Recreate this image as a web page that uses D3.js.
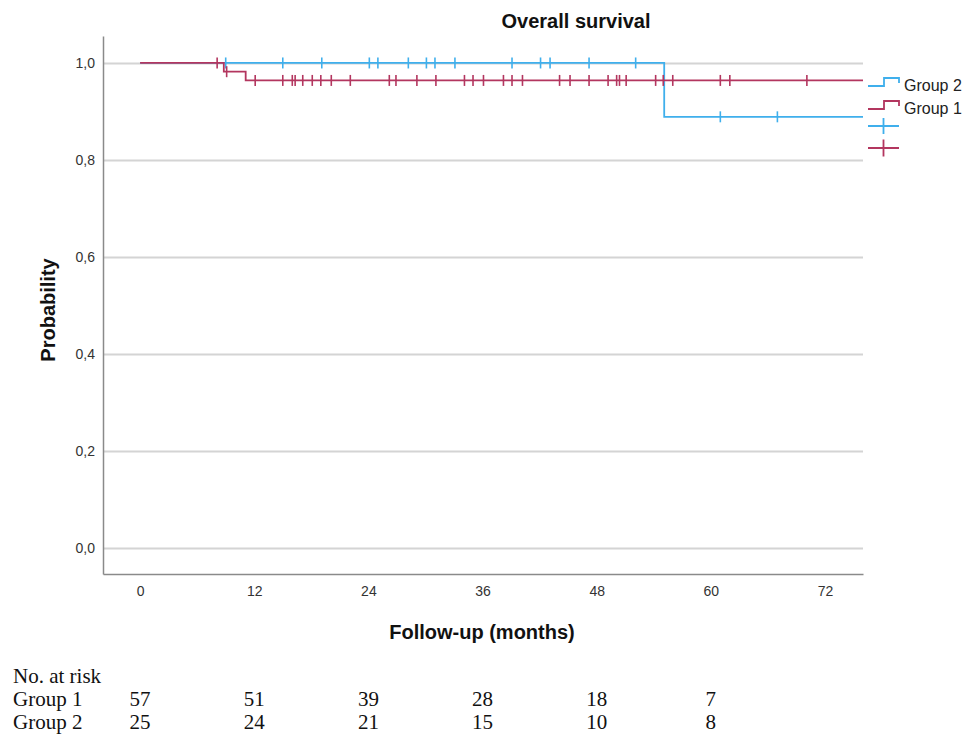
<!DOCTYPE html>
<html lang="en">
<head>
    <meta charset="utf-8">
    <title>Overall survival</title>
    <script src="https://d3js.org/d3.v7.min.js"></script>
    <style type="text/css">
        body { margin: 0; background: #fff; }
        .axis text { font-family: "Liberation Sans", Arial, sans-serif; fill: #333; }
    </style>
</head>
<body>
<script type="text/javascript">
    //Width and height
    var w = 978;
    var h = 735;

    //Plot box
    var plotLeft = 103, plotRight = 863, plotTop = 36, plotBottom = 574;

    //Tick values
    var xTicks = [0, 12, 24, 36, 48, 60, 72];
    var yTicks = [0, 0.2, 0.4, 0.6, 0.8, 1.0];

    //Kaplan-Meier steps: [month, survival after that month]
    var group1Steps = [[0, 1], [8.8, 0.982], [11.1, 0.964], [76, 0.964]];
    var group2Steps = [[0, 1], [55.1, 0.889], [76, 0.889]];

    //Censored cases (months)
    var group1Censored = [8.1, 9.1, 12.1, 15.0, 16.0, 16.3, 17.1, 18.1, 19.0, 20.1, 22.1, 26.2, 26.9,
        29.1, 31.1, 34.1, 35.0, 36.1, 38.2, 39.1, 40.2, 44.1, 45.2, 47.2, 49.2, 50.1, 50.4, 51.1,
        54.2, 55.0, 56.0, 61.0, 62.0, 70.1];
    var group2Censored = [9.0, 15.0, 19.1, 24.1, 25.0, 28.2, 30.1, 31.0, 33.1, 39.1, 42.1, 43.1,
        47.2, 52.1, 61.0, 67.0];

    //Number at risk table
    var riskMonths = [0, 12, 24, 36, 48, 60];
    var riskGroup1 = [57, 51, 39, 28, 18, 7];
    var riskGroup2 = [25, 24, 21, 15, 10, 8];

    var blue = "#3fafec";
    var red = "#b3365f";

    //survival at time t for a step list
    function survAt(steps, t) {
        var s = steps[0][1];
        steps.forEach(function(d) { if (d[0] <= t) s = d[1]; });
        return s;
    }

    var xScale = d3.scaleLinear()
        .domain([-3.9, 76])
        .range([plotLeft, plotRight]);
    var yScale = d3.scaleLinear()
        .domain([-0.0535, 1.0556])
        .range([plotBottom, plotTop]);

    var svg = d3.select("body")
        .append("svg")
        .attr("width", w)
        .attr("height", h);

    //Gridlines
    svg.append("g")
        .attr("transform", "translate(" + plotLeft + ",0)")
        .call(d3.axisLeft(yScale).tickValues(yTicks).tickSize(-(plotRight - plotLeft)).tickFormat(""))
        .call(function(g) { g.select(".domain").remove(); })
        .selectAll("line")
        .attr("stroke", "#d4d4d4")
        .attr("stroke-width", 2);

    //Y axis
    var yAxis = d3.axisLeft(yScale)
        .tickValues(yTicks)
        .tickSize(0)
        .tickPadding(8)
        .tickFormat(function(d) { return d3.format(".1f")(d).replace(".", ","); });
    svg.append("g")
        .attr("class", "axis")
        .attr("transform", "translate(" + plotLeft + ",0)")
        .call(yAxis)
        .call(function(g) {
            g.select(".domain").attr("stroke", "#8a8a8a").attr("stroke-width", 1.5);
            g.selectAll("text").attr("font-size", "14px");
        });

    //X axis
    var xAxis = d3.axisBottom(xScale)
        .tickValues(xTicks)
        .tickSize(0)
        .tickPadding(12);
    svg.append("g")
        .attr("class", "axis")
        .attr("transform", "translate(0," + plotBottom + ")")
        .call(xAxis)
        .call(function(g) {
            g.select(".domain").attr("stroke", "#8a8a8a").attr("stroke-width", 1.5);
            g.selectAll("text").attr("font-size", "14px");
        });

    //Survival curves
    var line = d3.line()
        .curve(d3.curveStepAfter)
        .x(function(d) { return xScale(d[0]); })
        .y(function(d) { return yScale(d[1]); });

    var curves = [
        { steps: group2Steps, censored: group2Censored, color: blue },
        { steps: group1Steps, censored: group1Censored, color: red }
    ];

    curves.forEach(function(c) {
        svg.append("path")
            .datum(c.steps)
            .attr("d", line)
            .attr("fill", "none")
            .attr("stroke", c.color)
            .attr("stroke-width", 1.8);

        svg.append("g")
            .selectAll("line")
            .data(c.censored)
            .enter()
            .append("line")
            .attr("x1", function(d) { return xScale(d); })
            .attr("x2", function(d) { return xScale(d); })
            .attr("y1", function(d) { return yScale(survAt(c.steps, d)) - 5.5; })
            .attr("y2", function(d) { return yScale(survAt(c.steps, d)) + 5.5; })
            .attr("stroke", c.color)
            .attr("stroke-width", 1.6);
    });

    //Legend
    var legendItems = [
        { label: "Group 2", color: blue, y: 86 },
        { label: "Group 1", color: red, y: 109 }
    ];
    legendItems.forEach(function(d) {
        svg.append("path")
            .attr("d", "M868," + d.y + "H884V" + (d.y - 8) + "H899V" + (d.y - 3))
            .attr("fill", "none")
            .attr("stroke", d.color)
            .attr("stroke-width", 1.8);
        svg.append("text")
            .attr("x", 904)
            .attr("y", d.y + 5)
            .attr("font-family", "Liberation Sans, Arial, sans-serif")
            .attr("font-size", "16px")
            .attr("fill", "#222")
            .text(d.label);
    });
    [{ color: blue, y: 126, r: 8 }, { color: red, y: 148, r: 8.5 }].forEach(function(d) {
        svg.append("path")
            .attr("d", "M868," + d.y + "H899M883.5," + (d.y - d.r) + "V" + (d.y + d.r))
            .attr("stroke", d.color)
            .attr("stroke-width", 1.8);
    });

    //Titles
    svg.append("text")
        .attr("x", 576)
        .attr("y", 28)
        .attr("text-anchor", "middle")
        .attr("font-family", "Liberation Sans, Arial, sans-serif")
        .attr("font-weight", "bold")
        .attr("font-size", "20px")
        .attr("fill", "#111")
        .text("Overall survival");

    svg.append("text")
        .attr("x", 482)
        .attr("y", 639)
        .attr("text-anchor", "middle")
        .attr("font-family", "Liberation Sans, Arial, sans-serif")
        .attr("font-weight", "bold")
        .attr("font-size", "20px")
        .attr("fill", "#111")
        .text("Follow-up (months)");

    svg.append("text")
        .attr("transform", "translate(55,310) rotate(-90)")
        .attr("text-anchor", "middle")
        .attr("font-family", "Liberation Sans, Arial, sans-serif")
        .attr("font-weight", "bold")
        .attr("font-size", "20px")
        .attr("fill", "#111")
        .text("Probability");

    //Number at risk table
    var serif = "Liberation Serif, Times New Roman, serif";
    svg.append("text")
        .attr("x", 13).attr("y", 683)
        .attr("font-family", serif).attr("font-size", "21px").attr("fill", "#111")
        .text("No. at risk");

    [{ label: "Group 1", values: riskGroup1, y: 706 }, { label: "Group 2", values: riskGroup2, y: 729 }]
        .forEach(function(row) {
            svg.append("text")
                .attr("x", 13).attr("y", row.y)
                .attr("font-family", serif).attr("font-size", "21px").attr("fill", "#111")
                .text(row.label);
            svg.append("g")
                .selectAll("text")
                .data(row.values)
                .enter()
                .append("text")
                .attr("x", function(d, i) { return xScale(riskMonths[i]); })
                .attr("y", row.y)
                .attr("text-anchor", "middle")
                .attr("font-family", serif)
                .attr("font-size", "21px")
                .attr("fill", "#111")
                .text(function(d) { return d; });
        });
</script>
</body>
</html>
